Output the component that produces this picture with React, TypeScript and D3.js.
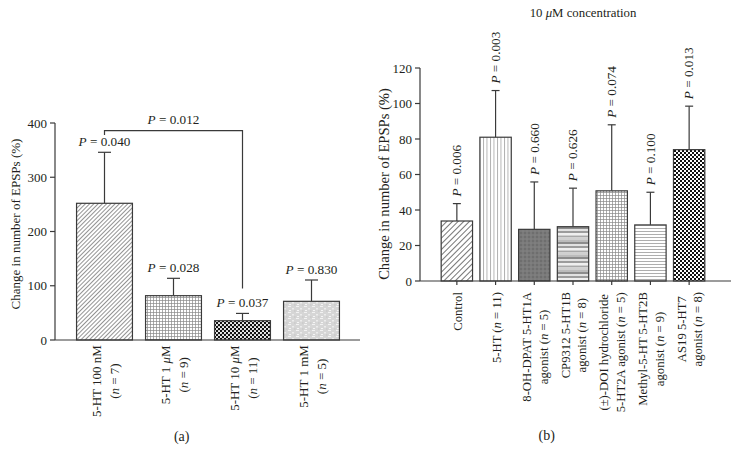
import React from "react";
import * as d3 from "d3";

const FONT = "Liberation Serif";
const INK = "#231f20";
const LINE = "#3a3a3a";

// Panel (a)
const catsA = ["5-HT 100 nM|(_n_ = 7)", "5-HT 1 _μ_M|(_n_ = 9)", "5-HT 10 _μ_M|(_n_ = 11)", "5-HT 1 mM|(_n_ = 5)"];
const valuesA = [252, 81.7, 35.6, 71.3];
const errorsA = [94, 32, 13.4, 39.3];
const pA = ["0.040", "0.028", "0.037", "0.830"];
const ticksA = [0, 100, 200, 300, 400];
const patternsA = ["a1", "a2", "a3", "a4"];
const bracketA = { from: 0, to: 2, left: 378, top: 386, right: 95, p: "0.012" };

// Panel (b)
const catsB = [
  "Control",
  "5-HT (_n_ = 11)",
  "8-OH-DPAT 5-HT1A|agonist (_n_ = 5)",
  "CP9312 5-HT1B|agonist (_n_ = 8)",
  "(±)-DOI hydrochloride|5-HT2A agonist (_n_ = 5)",
  "Methyl-5-HT 5-HT2B|agonist (_n_ = 9)",
  "AS19 5-HT7|agonist (_n_ = 8)",
];
const valuesB = [33.8, 81, 29.1, 30.6, 50.8, 31.6, 74];
const errorsB = [9.8, 26.3, 26.7, 21.7, 37.2, 18.4, 24.5];
const pB = ["0.006", "0.003", "0.660", "0.626", "0.074", "0.100", "0.013"];
const ticksB = [0, 20, 40, 60, 80, 100, 120];
const patternsB = ["b1", "b2", "b3", "b4", "b5", "b6", "b7"];

let ctx: CanvasRenderingContext2D | null = null;
function measure(text: string, fs: number) {
  if (!ctx) ctx = document.createElement("canvas").getContext("2d");
  if (!ctx) return text.length * fs * 0.5;
  ctx.font = `${fs}px "Liberation Serif"`;
  return ctx.measureText(text.replace(/_/g, "")).width;
}

function Rich({ text }: { text: string }) {
  const parts = text.split("_");
  return (
    <>
      {parts.map((p, i) => (
        <tspan key={i} fontStyle={i % 2 === 1 ? "italic" : "normal"} fontFamily={FONT}>
          {p}
        </tspan>
      ))}
    </>
  );
}

function T(props: any) {
  return <text fontFamily={FONT} fill={INK} {...props} />;
}

function Defs() {
  return (
    <defs>
      <pattern id="a1" width="3" height="3" patternUnits="userSpaceOnUse" patternTransform="rotate(45)">
        <rect width="3" height="3" fill="#fff" />
        <line x1="0.5" y1="0" x2="0.5" y2="3" stroke="#777" strokeWidth="0.8" />
      </pattern>
      <pattern id="a2" width="3" height="3" patternUnits="userSpaceOnUse">
        <rect width="3" height="3" fill="#fff" />
        <line x1="0.5" y1="0" x2="0.5" y2="3" stroke="#888" strokeWidth="0.7" />
        <line x1="0" y1="0.5" x2="3" y2="0.5" stroke="#888" strokeWidth="0.7" />
      </pattern>
      <pattern id="a3" width="4" height="4" patternUnits="userSpaceOnUse">
        <rect width="4" height="4" fill="#111" />
        <circle cx="1" cy="1" r="1.05" fill="#fff" />
        <circle cx="3" cy="3" r="1.05" fill="#fff" />
      </pattern>
      <pattern id="a4" width="8" height="6" patternUnits="userSpaceOnUse">
        <rect width="8" height="6" fill="#d6d6d6" />
        <rect x="0" y="0" width="3" height="1" fill="#f2f2f2" />
        <rect x="4" y="2" width="2" height="1.5" fill="#ececec" />
        <rect x="1" y="4" width="2" height="1" fill="#f5f5f5" />
        <rect x="6" y="4.5" width="1.5" height="1" fill="#c4c4c4" />
      </pattern>
      <pattern id="b1" width="4" height="4" patternUnits="userSpaceOnUse" patternTransform="rotate(45)">
        <rect width="4" height="4" fill="#fff" />
        <line x1="0.5" y1="0" x2="0.5" y2="4" stroke="#666" strokeWidth="0.9" />
      </pattern>
      <pattern id="b2" width="3.5" height="4" patternUnits="userSpaceOnUse">
        <rect width="3.5" height="4" fill="#fff" />
        <line x1="0.5" y1="0" x2="0.5" y2="4" stroke="#999" strokeWidth="0.8" />
      </pattern>
      <pattern id="b3" width="4" height="4" patternUnits="userSpaceOnUse">
        <rect width="4" height="4" fill="#7a7a7a" />
        <circle cx="1" cy="1" r="0.8" fill="#5e5e5e" />
        <circle cx="3" cy="3" r="0.6" fill="#8e8e8e" />
      </pattern>
      <pattern id="b4" width="4" height="15" patternUnits="userSpaceOnUse">
        <rect width="4" height="2" y="0" fill="#bcbcbc" />
        <rect width="4" height="2" y="2" fill="#8c8c8c" />
        <rect width="4" height="2" y="4" fill="#e2e2e2" />
        <rect width="4" height="2" y="6" fill="#9c9c9c" />
        <rect width="4" height="2.5" y="8" fill="#efefef" />
        <rect width="4" height="2" y="10.5" fill="#a8a8a8" />
        <rect width="4" height="2.5" y="12.5" fill="#d0d0d0" />
      </pattern>
      <pattern id="b5" width="3" height="3" patternUnits="userSpaceOnUse">
        <rect width="3" height="3" fill="#fff" />
        <line x1="0.5" y1="0" x2="0.5" y2="3" stroke="#888" strokeWidth="0.7" />
        <line x1="0" y1="0.5" x2="3" y2="0.5" stroke="#888" strokeWidth="0.7" />
      </pattern>
      <pattern id="b6" width="4" height="3" patternUnits="userSpaceOnUse">
        <rect width="4" height="3" fill="#fff" />
        <line x1="0" y1="0.5" x2="4" y2="0.5" stroke="#999" strokeWidth="0.8" />
      </pattern>
      <pattern id="b7" width="4" height="4" patternUnits="userSpaceOnUse">
        <rect width="4" height="4" fill="#fff" />
        <rect x="0" y="0" width="2" height="2" fill="#111" />
        <rect x="2" y="2" width="2" height="2" fill="#111" />
      </pattern>
    </defs>
  );
}

function RotLabel({ text, cx, top, fs, spacing }: { text: string; cx: number; top: number; fs: number; spacing: number }) {
  const lines = text.split("|");
  const maxW = Math.max(...lines.map((l) => measure(l, fs)));
  const cy = top + maxW / 2;
  const n = lines.length;
  return (
    <g transform={`translate(${cx},${cy}) rotate(-90)`}>
      {lines.map((l, i) => {
        const off = (i - (n - 1) / 2) * spacing;
        return (
          <T key={i} x={0} y={off + 0.33 * fs} textAnchor="middle" fontSize={fs}>
            <Rich text={l} />
          </T>
        );
      })}
    </g>
  );
}

function PanelA() {
  const x = d3.scaleBand<number>().domain(d3.range(catsA.length)).range([70, 346]).paddingInner(0.19).paddingOuter(0.095);
  const y = d3.scaleLinear().domain([0, 400]).range([340, 123]);
  const x0 = 55, x1 = 360;
  const bw = x.bandwidth();
  const cx = (i: number) => (x(i) as number) + bw / 2;
  const b = bracketA;
  return (
    <g>
      {valuesA.map((v, i) => (
        <g key={i}>
          <line x1={cx(i)} x2={cx(i)} y1={y(v)} y2={y(v + errorsA[i])} stroke={LINE} strokeWidth={1.2} />
          <line x1={cx(i) - 6.5} x2={cx(i) + 6.5} y1={y(v + errorsA[i])} y2={y(v + errorsA[i])} stroke={LINE} strokeWidth={1.2} />
          <rect x={x(i)} y={y(v)} width={bw} height={y(0) - y(v)} fill={`url(#${patternsA[i]})`} stroke={LINE} strokeWidth={1.2} />
          <T x={cx(i)} y={y(v + errorsA[i]) - 6} textAnchor="middle" fontSize={13.2}>
            <Rich text={`_P_ = ${pA[i]}`} />
          </T>
          <RotLabel text={catsA[i]} cx={cx(i) + 1.3} top={345} fs={13} spacing={18} />
        </g>
      ))}
      <path
        d={`M${cx(b.from)},${y(b.left)}V${y(b.top)}H${cx(b.to)}V${y(b.right)}`}
        fill="none"
        stroke={LINE}
        strokeWidth={1.2}
      />
      <T x={(cx(b.from) + cx(b.to)) / 2} y={y(b.top) - 7} textAnchor="middle" fontSize={13.2}>
        <Rich text={`_P_ = ${b.p}`} />
      </T>
      <line x1={x0} x2={x0} y1={y(0)} y2={y(400)} stroke={LINE} strokeWidth={1.2} />
      <line x1={x0} x2={x1} y1={y(0)} y2={y(0)} stroke={LINE} strokeWidth={1.2} />
      {ticksA.map((t) => (
        <g key={t}>
          <line x1={x0 - 5} x2={x0} y1={y(t)} y2={y(t)} stroke={LINE} strokeWidth={1.2} />
          <T x={x0 - 8} y={y(t) + 4.5} textAnchor="end" fontSize={13}>
            {t}
          </T>
        </g>
      ))}
      <T transform={`translate(19.5,224) rotate(-90)`} textAnchor="middle" fontSize={13}>
        Change in number of EPSPs (%)
      </T>
      <T x={181.7} y={441} textAnchor="middle" fontSize={14}>
        (a)
      </T>
    </g>
  );
}

function PanelB() {
  const x = d3.scaleBand<number>().domain(d3.range(catsB.length)).range([437.5, 708.5]).paddingInner(0.19).paddingOuter(0.095);
  const y = d3.scaleLinear().domain([0, 120]).range([281, 68]);
  const x0 = 420, x1 = 731;
  const bw = x.bandwidth();
  const cx = (i: number) => (x(i) as number) + bw / 2;
  const fsP = 13.2;
  return (
    <g>
      <T x={583} y={17} textAnchor="middle" fontSize={12.8}>
        <Rich text="10 _μ_M concentration" />
      </T>
      {valuesB.map((v, i) => {
        const top = y(v + errorsB[i]);
        return (
          <g key={i}>
            <line x1={cx(i)} x2={cx(i)} y1={y(v)} y2={top} stroke={LINE} strokeWidth={1.2} />
            <line x1={cx(i) - 4} x2={cx(i) + 4} y1={top} y2={top} stroke={LINE} strokeWidth={1.2} />
            <rect x={x(i)} y={y(v)} width={bw} height={y(0) - y(v)} fill={`url(#${patternsB[i]})`} stroke={LINE} strokeWidth={1.2} />
            <T transform={`translate(${cx(i) + 0.33 * fsP},${top - 7}) rotate(-90)`} textAnchor="start" fontSize={fsP}>
              <Rich text={`_P_ = ${pB[i]}`} />
            </T>
            <line x1={cx(i)} x2={cx(i)} y1={y(0)} y2={y(0) + 4} stroke={LINE} strokeWidth={1.2} />
            <RotLabel text={catsB[i]} cx={cx(i) + 0.8} top={292} fs={12.7} spacing={16.5} />
          </g>
        );
      })}
      <line x1={x0} x2={x0} y1={y(0)} y2={y(120)} stroke={LINE} strokeWidth={1.2} />
      <line x1={x0} x2={x1} y1={y(0)} y2={y(0)} stroke={LINE} strokeWidth={1.2} />
      {ticksB.map((t) => (
        <g key={t}>
          <line x1={x0 - 5} x2={x0} y1={y(t)} y2={y(t)} stroke={LINE} strokeWidth={1.2} />
          <T x={x0 - 8} y={y(t) + 4.5} textAnchor="end" fontSize={13}>
            {t}
          </T>
        </g>
      ))}
      <T transform={`translate(388.5,184) rotate(-90)`} textAnchor="middle" fontSize={14.6}>
        Change in number of EPSPs (%)
      </T>
      <T x={546.7} y={440} textAnchor="middle" fontSize={14}>
        (b)
      </T>
    </g>
  );
}

export default function App() {
  return (
    <svg width={731} height={450} style={{ position: "absolute", left: 0, top: 0, background: "#fff" }} fontFamily={FONT}>
      <Defs />
      <PanelA />
      <PanelB />
    </svg>
  );
}
